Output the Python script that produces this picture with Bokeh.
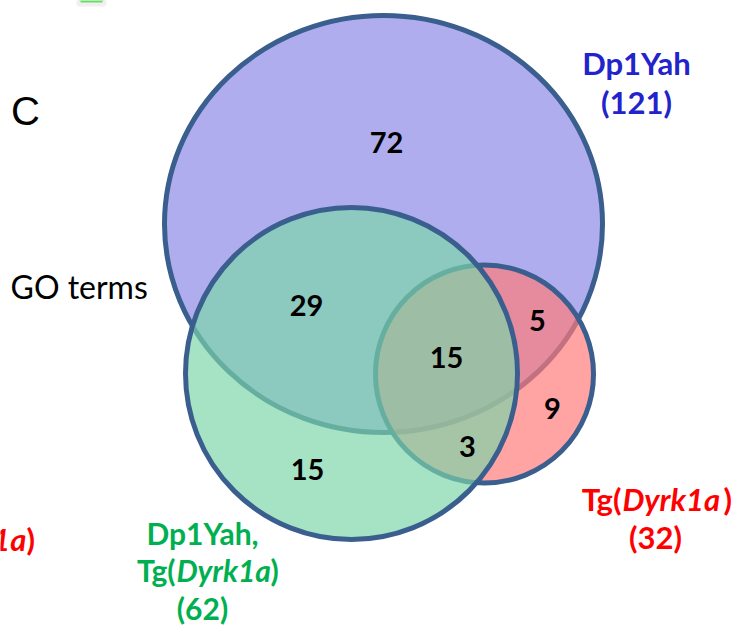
from bokeh.plotting import figure
from bokeh.models import Range1d
from bokeh.core.properties import value
from bokeh.embed import file_html
from bokeh.resources import INLINE

# ---- data ----
set_names = ["Dp1Yah", "Tg(Dyrk1a)", "Dp1Yah, Tg(Dyrk1a)"]
set_totals = [121, 32, 62]
region_counts = [72, 29, 15, 5, 9, 3, 15]
region_names = ["Dp1Yah only", "Dp1Yah & both", "all three", "Dp1Yah & Tg",
                "Tg only", "Tg & both", "both only"]

# ---- layout (pixel coordinates of the reference picture) ----
circle_x = [383, 484, 351]
circle_y = [223.5, 373.5, 373]
circle_w = [438, 218, 332]
circle_h = [417, 218, 332]
circle_fill = ["#afadee", "#ff7a7a", "#7cd6a8"]
circle_alpha = [1.0, 0.69, 0.68]
region_x = [386, 306, 446, 537, 552, 467, 307]
region_y = [142, 305, 357, 320, 408, 446, 469]

OUT = "#3a5f8e"
BLUE = "#2323cc"
RED = "#ff0000"
GREEN = "#00b050"
FONT = "Lato"

p = figure(width=737, height=630, x_range=Range1d(0, 737), y_range=Range1d(630, 0),
           min_border=0, toolbar_location=None, output_backend="svg")
p.axis.visible = False
p.grid.visible = False
p.outline_line_color = None
p.background_fill_color = "white"

# fragment of a neighbouring panel at the top edge
p.rect(x=[91], y=[0], width=[26], height=[8], fill_color="#66dd66",
       line_color="#f4eef0", line_width=4)

for i in range(3):
    p.ellipse(x=[circle_x[i]], y=[circle_y[i]], width=[circle_w[i]], height=[circle_h[i]],
              fill_color=circle_fill[i], fill_alpha=circle_alpha[i],
              line_color=OUT, line_width=5)

p.text(x=region_x, y=region_y, text=[str(v) for v in region_counts],
       text_align="center", text_baseline="middle", text_color="black",
       text_font=value(FONT), text_font_style="bold", text_font_size="29px")

def label(x, y, s, color, align="center", style="bold", size="31px", font=FONT):
    p.text(x=[x], y=[y], text=[s], text_align=align, text_baseline="middle",
           text_color=color, text_font=value(font), text_font_style=style,
           text_font_size=size)

# Dp1Yah (blue)
label(636, 62, set_names[0], BLUE)
label(636, 101, "(%d)" % set_totals[0], BLUE)

# Tg(Dyrk1a) (red)
label(621, 498, "Tg(", RED, align="right")
label(622, 498, "Dyrk1a", RED, align="left", style="bold italic")
label(723, 498, ")", RED, align="left")
label(655, 536, "(%d)" % set_totals[1], RED)

# Dp1Yah, Tg(Dyrk1a) (green)
label(202, 532, "Dp1Yah,", GREEN, size="30px")
label(175, 569, "Tg(", GREEN, align="right", size="30px")
label(176, 569, "Dyrk1a", GREEN, align="left", style="bold italic", size="30px")
label(270, 569, ")", GREEN, align="left", size="30px")
label(202, 607, "(%d)" % set_totals[2], GREEN, size="30px")

# cut-off label of neighbouring panel
label(26, 538, "Dyrk1a", RED, align="right", style="bold italic")
label(26, 538, ")", RED, align="left")

# panel texts
label(25, 110, "C", "black", style="normal", size="40px", font="Liberation Sans")
label(10, 286, "GO terms", "black", align="left", style="normal", size="32px")

open("out.html", "w").write(file_html(p, INLINE))
